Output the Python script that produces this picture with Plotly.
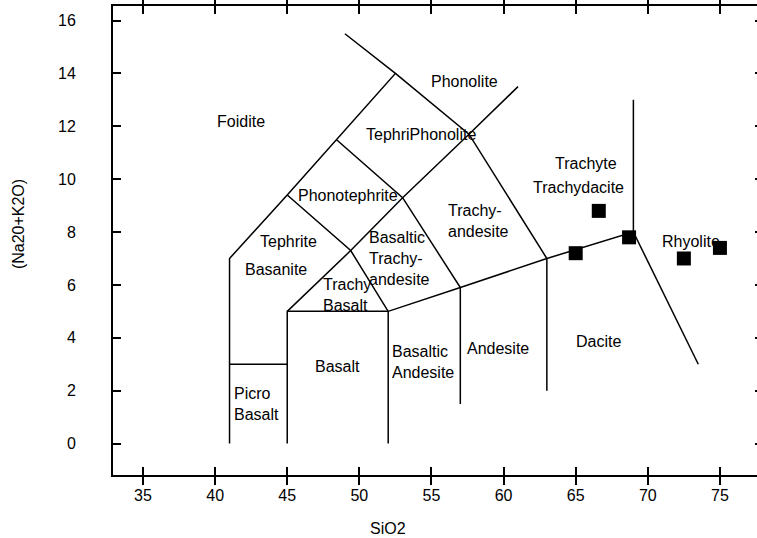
import plotly.graph_objects as go

# ---- Sample data (SiO2 vs Na2O+K2O) ----
sio2 = [65.0, 66.6, 68.7, 72.5, 75.0]
alkali = [7.2, 8.8, 7.8, 7.0, 7.4]

# ---- TAS field boundaries (polylines) ----
bnd_a_x = [41, 41, 45, 48.4, 52.5, 49.0]
bnd_a_y = [0, 7, 9.4, 11.5, 14, 15.5]
bnd_b_x = [52.5, 57.6, 63]
bnd_b_y = [14, 11.7, 7]
bnd_c_x = [45, 45, 49.4, 53, 57.6, 61]
bnd_c_y = [0, 5, 7.3, 9.3, 11.7, 13.5]
bnd_d_x = [45, 49.4, 52, 52]
bnd_d_y = [9.4, 7.3, 5, 0]
bnd_e_x = [48.4, 53, 57, 57]
bnd_e_y = [11.5, 9.3, 5.9, 1.5]
bnd_f_x = [41, 45]
bnd_f_y = [3, 3]
bnd_g_x = [45, 52, 57, 63, 69, 69]
bnd_g_y = [5, 5, 5.9, 7, 8, 13]
bnd_h_x = [69, 73.5]
bnd_h_y = [8, 3]
bnd_i_x = [63, 63]
bnd_i_y = [7, 2.0]

boundaries = [
    (bnd_a_x, bnd_a_y), (bnd_b_x, bnd_b_y), (bnd_c_x, bnd_c_y),
    (bnd_d_x, bnd_d_y), (bnd_e_x, bnd_e_y), (bnd_f_x, bnd_f_y),
    (bnd_g_x, bnd_g_y), (bnd_h_x, bnd_h_y), (bnd_i_x, bnd_i_y),
]

# ---- Field labels ----
field_names = ["Foidite", "Phonolite", "TephriPhonolite", "Phonotephrite",
               "Tephrite", "Basanite", "Trachy<br>Basalt",
               "Basaltic<br>Trachy-<br>andesite", "Trachy-<br>andesite",
               "Trachyte", "Trachydacite", "Rhyolite", "Dacite", "Andesite",
               "Basaltic<br>Andesite", "Basalt", "Picro<br>Basalt"]
field_x = [41.8, 57.3, 54.3, 49.2, 45.1, 44.2, 47.35,
           50.55, 56.0, 65.7, 65.2, 73.0, 66.6, 59.6,
           52.1, 48.5, 42.9]
field_y = [12.2, 13.7, 11.7, 9.4, 7.65, 6.6, 5.6,
           7.0, 8.4, 10.6, 9.7, 7.65, 3.85, 3.6,
           3.1, 2.9, 1.5]
field_anchor = ["center", "center", "center", "center", "center", "center", "left",
                "left", "left", "center", "center", "center", "center", "center",
                "left", "center", "center"]

x_ticks = [35, 40, 45, 50, 55, 60, 65, 70, 75]
y_ticks = [0, 2, 4, 6, 8, 10, 12, 14, 16]

FONT = "Arial, 'Liberation Sans', sans-serif"
FS = 16

fig = go.Figure()
for bx, by in boundaries:
    fig.add_trace(go.Scatter(x=bx, y=by, mode="lines",
                             line=dict(color="black", width=1.5),
                             hoverinfo="skip", showlegend=False))

fig.add_trace(go.Scatter(x=sio2, y=alkali, mode="markers",
                         marker=dict(symbol="square", size=14, color="black"),
                         showlegend=False))

for name, fx, fy, anc in zip(field_names, field_x, field_y, field_anchor):
    fig.add_annotation(x=fx, y=fy, text=name, showarrow=False,
                       xanchor=anc, yanchor="middle", align="left",
                       font=dict(family=FONT, size=FS, color="black"))

# axis titles
fig.add_annotation(x=52.0, xref="x", y=-0.1151, yref="paper", text="SiO2",
                   showarrow=False, xanchor="center", yanchor="middle",
                   font=dict(family=FONT, size=FS, color="black"))
fig.add_annotation(x=-0.1475, xref="paper", y=8.3, yref="y", text="(Na20+K2O)",
                   showarrow=False, textangle=-90, xanchor="center",
                   yanchor="middle",
                   font=dict(family=FONT, size=FS, color="black"))

fig.update_xaxes(range=[32.92, 77.57], tickvals=x_ticks, ticks="inside",
                 ticklen=8, tickwidth=1.5, tickcolor="black",
                 showline=True, linecolor="black", linewidth=2, mirror="allticks",
                 showgrid=False, zeroline=False, ticklabelstandoff=5,
                 tickfont=dict(family=FONT, size=FS, color="black"))
fig.update_yaxes(range=[-1.19, 16.55], tickvals=y_ticks, ticks="inside",
                 ticklen=8, tickwidth=1.5, tickcolor="black",
                 showline=True, linecolor="black", linewidth=2, mirror=False,
                 showgrid=False, zeroline=False, ticklabelstandoff=32,
                 tickfont=dict(family=FONT, size=FS, color="black"))

# right-hand ticks (the right frame line lies just beyond the visible page)
fig.update_layout(yaxis2=dict(overlaying="y", side="right", matches="y",
                              range=[-1.19, 16.55], tickvals=y_ticks,
                              ticks="inside", ticklen=2, tickwidth=1.5,
                              tickcolor="black", showline=False,
                              showticklabels=False, showgrid=False,
                              zeroline=False))
fig.add_trace(go.Scatter(x=[None], y=[None], yaxis="y2", showlegend=False,
                         hoverinfo="skip"))

fig.update_layout(width=757, height=538,
                  margin=dict(l=113, r=0, t=6, b=63),
                  plot_bgcolor="white", paper_bgcolor="white",
                  showlegend=False)

fig.write_html("out.html",
               config={"displayModeBar": False},
               post_script="document.body.style.margin='0';"
                           "document.body.style.overflow='hidden';")
